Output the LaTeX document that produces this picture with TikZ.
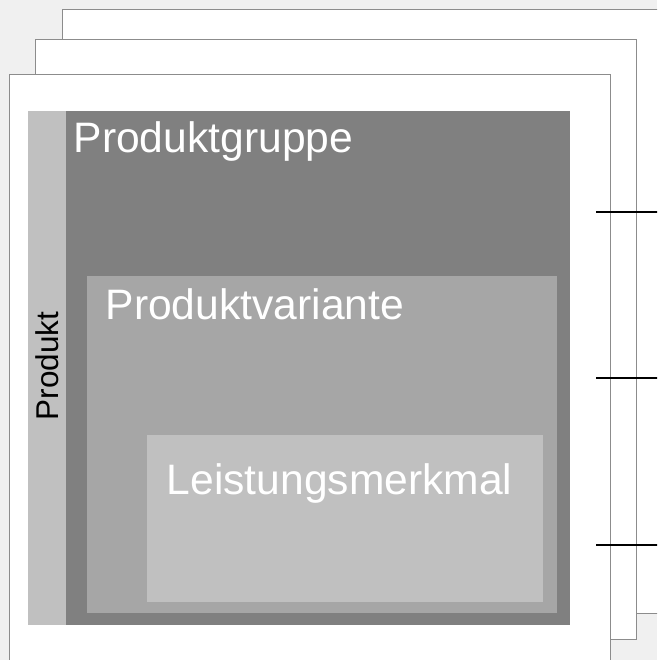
\documentclass[tikz,border=0pt]{standalone}
\usepackage{fontspec}
\setmainfont{Liberation Sans}
\usetikzlibrary{positioning, calc}
\definecolor{bggray}{HTML}{F0F0F0}
\definecolor{pageline}{HTML}{8C8C8C}
\definecolor{darkblock}{HTML}{808080}
\definecolor{midblock}{HTML}{A6A6A6}
\definecolor{lightblock}{HTML}{C0C0C0}
\tikzstyle{page} = [draw=pageline, line width=1pt, fill=white]
\tikzstyle{block} = [rectangle, anchor=north west, inner sep=0pt, outer sep=0pt]
\tikzstyle{title} = [anchor=base west, inner sep=0pt, text=white, font=\fontsize{42.6}{50}\selectfont]
\tikzstyle{marker} = [line width=2.5pt, draw=black]

\begin{document}
\begin{tikzpicture}[x=1pt, y=-1pt]
\fill [bggray] (0,0) rectangle (657,660);
\useasboundingbox (0,0) rectangle (657,660);
\clip (0,0) rectangle (657,660);
%Seiten
\draw [page] (62,10) rectangle (700,613);
\draw [page] (35,40) rectangle (636,639);
\draw [page] (9,75) rectangle (610,700);

%Bloecke
\node (produkt) [block, fill=lightblock, minimum width=38pt, minimum height=514pt] at (28,111) {};
\node (gruppe) [block, fill=darkblock, minimum width=504pt, minimum height=514pt] at (66,111) {};
\node (variante) [block, fill=midblock, minimum width=470pt, minimum height=337pt] at (87,276) {};
\node (merkmal) [block, fill=lightblock, minimum width=396pt, minimum height=167pt] at (147,435) {};

%Beschriftung
\node [title] at ($(gruppe.north west)+(7.5,42)$) {Produktgruppe};
\node [title] at ($(variante.north west)+(18.5,43)$) {Produktvariante};
\node [title] at ($(merkmal.north west)+(19.5,59)$) {Leistungsmerkmal};
\node [rotate=90, inner sep=0pt, font=\fontsize{31.5}{36}\selectfont] at ($(produkt.center)+(0,-2)$) {Produkt};

%Linien rechts
\foreach \y in {212,378,545}
  \draw [marker] (596,\y) -- (660,\y);
\end{tikzpicture}
\end{document}
